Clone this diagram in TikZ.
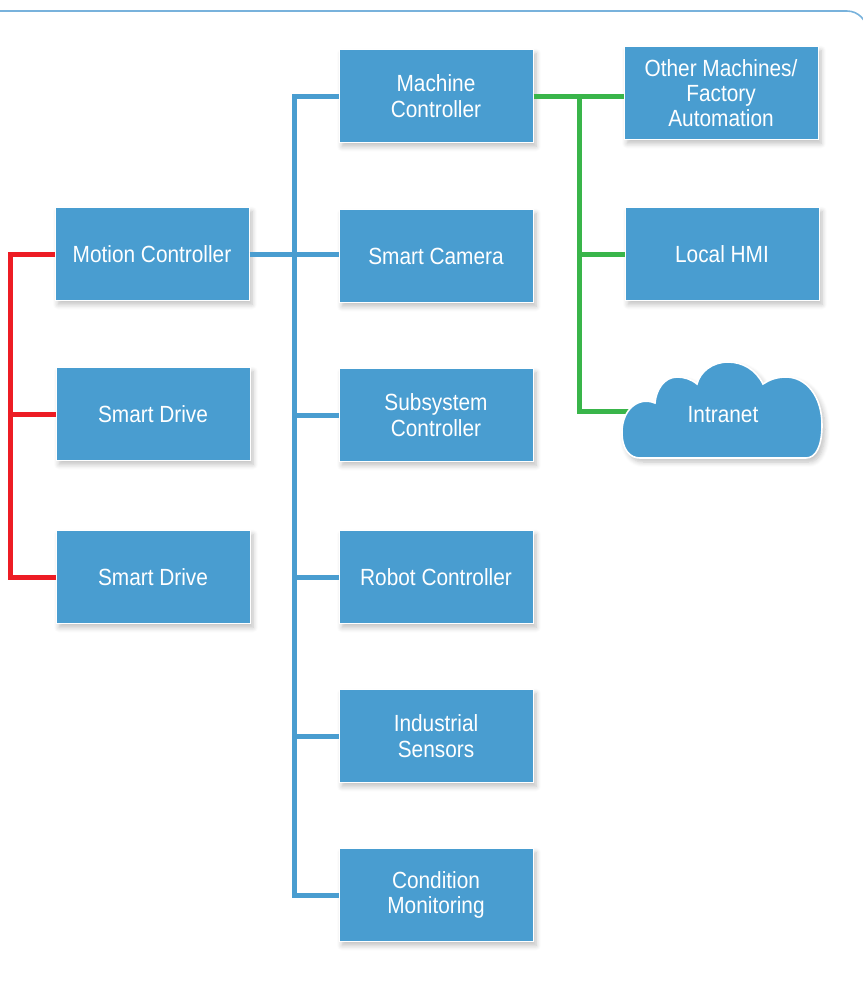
\documentclass[tikz,border=0pt]{standalone}
\usepackage{fontspec}
\setmainfont{Liberation Sans}[FakeStretch=0.89]
\usetikzlibrary{shadows.blur}
\definecolor{boxblue}{RGB}{73,157,208}
\definecolor{linered}{RGB}{237,28,36}
\definecolor{linegreen}{RGB}{57,181,74}
\definecolor{rimblue}{RGB}{120,178,220}

\begin{document}
\begin{tikzpicture}[x=0.5pt,y=-0.5pt,
   softshadow/.style={blur shadow={shadow xshift=1.5pt,shadow yshift=-2pt,
    shadow blur radius=2.5pt,shadow blur steps=6,shadow opacity=25}},
   box/.style={rectangle,draw=white,line width=0.5pt,fill=boxblue,
    minimum width=97pt,minimum height=46.5pt,inner sep=+0.1cm,
    align=center,text=white,font=\fontsize{11.7}{12.8}\selectfont,
    softshadow},
   wire/.style={line width=2.5pt},
   redwire/.style={wire,draw=linered},
   bluewire/.style={wire,draw=boxblue},
   greenwire/.style={wire,draw=linegreen}
    ]
  \useasboundingbox (0,0) rectangle (863,981);

  % -- frame
  \draw[rimblue,line width=0.8pt,rounded corners=10pt] (0,11) -- (867,11) -- (867,120);

  % -- left column
  \node[box] at (152,254) (mot) {Motion Controller};
  \node[box] at (153,414) (sd1) {Smart Drive};
  \node[box] at (153,577) (sd2) {Smart Drive};

  % -- middle column
  \node[box] at (436,96) (mac) {Machine\\Controller};
  \node[box] at (436,256) (cam) {Smart Camera};
  \node[box] at (436,415) (sub) {Subsystem\\Controller};
  \node[box] at (436,577) (rob) {Robot Controller};
  \node[box] at (436,736) (ind) {Industrial\\Sensors};
  \node[box] at (436,895) (cnd) {Condition\\Monitoring};

  % -- right column
  \node[box,font=\fontsize{11.7}{12.5}\selectfont] at (721,93) (oth) {Other Machines/\\Factory\\Automation};
  \node[box] at (722,254) (hmi) {Local HMI};

  % -- buses
  \coordinate (rbus) at (10,0);
  \coordinate (bbus) at (294,0);
  \coordinate (gbus) at (579,0);
  \coordinate (cloudin) at (630,411);

  \draw[redwire] (mot.west) -- (mot.west -| rbus) |- (sd2.west);
  \draw[redwire] (sd1.west) -- (sd1.west -| rbus);

  \draw[bluewire] (mac.west) -- (mac.west -| bbus) |- (cnd.west);
  \foreach \n in {sub,rob,ind}
    \draw[bluewire] (\n.west) -- (\n.west -| bbus);
  \draw[bluewire] (mot.east) -- (mot.east -| cam.west);

  \draw[greenwire] (mac.east) -- (mac.east -| oth.west);
  \draw[greenwire] (mac.east -| gbus) |- (cloudin);
  \draw[greenwire] (hmi.west) -- (hmi.west -| gbus);

  % -- cloud
  \draw[draw=white,line width=0.8pt,fill=boxblue,softshadow]
    (640,458) -- (806,458)
    .. controls (816,458) and (822,446) .. (822,425)
    .. controls (822,396) and (806,377) .. (786,377)
    .. controls (776,377) and (769,380) .. (763,384)
    .. controls (756,370) and (743,362) .. (728,362)
    .. controls (712,362) and (700,372) .. (697,384)
    .. controls (691,379) and (684,377) .. (677,377)
    .. controls (664,377) and (656,390) .. (655,403)
    .. controls (638,396) and (622,410) .. (622,432)
    .. controls (622,450) and (630,458) .. (640,458) -- cycle;
  \node[text=white,font=\fontsize{11.7}{12.8}\selectfont] at (723,415) (intra) {Intranet};

\end{tikzpicture}
\end{document}
